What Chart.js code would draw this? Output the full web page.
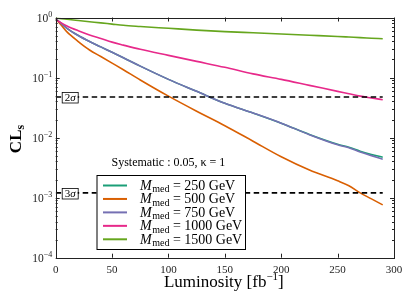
<!DOCTYPE html>
<html><head><meta charset="utf-8">
<script src="https://cdn.jsdelivr.net/npm/chart.js@4.4.0/dist/chart.umd.min.js"></script>
<style>html,body{margin:0;padding:0;background:#fff;}#wrap{width:415px;height:306px;}</style>
</head><body><div id="wrap"><canvas id="c" width="415" height="306"></canvas></div>
<script>
// ---- data ----
const luminosity = [0,5,10,20,30,40,50,60,75,100,125,150,175,200,225,250,260,270,280,290];
const cls250  = [0.95,0.794,0.661,0.501,0.398,0.324,0.263,0.214,0.155,0.0933,0.0589,0.0372,0.0257,0.0174,0.0113,0.00776,0.00692,0.00595,0.00525,0.00470];
const cls500  = [0.95,0.741,0.575,0.398,0.288,0.224,0.174,0.135,0.0912,0.0490,0.0275,0.0158,0.00871,0.00479,0.00288,0.00191,0.00158,0.00120,0.000955,0.000759];
const cls750  = [0.95,0.794,0.661,0.501,0.398,0.324,0.263,0.214,0.155,0.0933,0.0589,0.0372,0.0257,0.0174,0.0112,0.00759,0.00676,0.00575,0.00501,0.00437];
const cls1000 = [0.93,0.813,0.724,0.603,0.513,0.447,0.389,0.347,0.295,0.234,0.186,0.148,0.115,0.0933,0.0741,0.0589,0.0537,0.0490,0.0457,0.0427];
const cls1500 = [0.977,0.955,0.933,0.891,0.851,0.813,0.776,0.741,0.708,0.661,0.617,0.582,0.556,0.531,0.507,0.484,0.473,0.462,0.452,0.442];
const massLabels = ['250','500','750','1000','1500'];
const sigmaValues = [0.0475, 0.0012];
const sigmaNumbers = ['2','3'];
const xTickValues = [0,50,100,150,200,250,300];
const xTickLabels = ['0','50','100','150','200','250','300'];
const yTickValues = [1e-4,1e-3,1e-2,1e-1,1];
const yTickExponents = ['\u22124','\u22123','\u22122','\u22121','0'];
const xTitle = 'Luminosity [fb';
const xTitleExp = '\u22121';
const annotationText = 'Systematic : 0.05, \u03BA = 1';

// ---- style ----
const colors = ['#1b9e77','#d95f02','#7570b3','#e7298a','#66a61e'];
const SERIF = '"Liberation Serif", "DejaVu Serif", serif';
const seriesData = [cls250, cls500, cls750, cls1000, cls1500];
const lineOrder = [5,4,3,2,1];

const datasets = seriesData.map((arr,i)=>({
  data: luminosity.map((l,j)=>({x:l, y:arr[j]})),
  borderColor: colors[i], borderWidth: 1.6, pointRadius: 0,
  cubicInterpolationMode: 'monotone', fill:false, order: lineOrder[i]
}));
sigmaValues.forEach(v=>{
  datasets.push({
    data: [{x:luminosity[0], y:v},{x:luminosity[luminosity.length-1], y:v}],
    borderColor:'#000', borderWidth:1.6, borderDash:[5.5,3.5], pointRadius:0, order:0
  });
});

function supText(ctx, base, exp, xRight, yBase, size, expSize, rise){
  ctx.font = size+'px '+SERIF; const wb = ctx.measureText(base).width;
  ctx.font = expSize+'px '+SERIF; const we = ctx.measureText(exp).width;
  const x0 = xRight - wb - we;
  ctx.font = size+'px '+SERIF; ctx.fillText(base, x0, yBase);
  ctx.font = expSize+'px '+SERIF; ctx.fillText(exp, x0+wb, yBase-rise);
}

const deco = {
  id:'deco',
  afterDraw(chart){
    const {ctx, chartArea:a, scales:{x,y}} = chart;
    ctx.save();
    // frame
    ctx.strokeStyle='#222'; ctx.lineWidth=1;
    ctx.strokeRect(Math.round(a.left)+0.5, Math.round(a.top)+0.5, Math.round(a.right-a.left), Math.round(a.bottom-a.top));
    ctx.beginPath();
    xTickValues.forEach(v=>{
      const px = Math.round(x.getPixelForValue(v))+0.5;
      ctx.moveTo(px,a.bottom); ctx.lineTo(px,a.bottom-4);
      ctx.moveTo(px,a.top); ctx.lineTo(px,a.top+4);
    });
    yTickValues.forEach((v,i)=>{
      const py = Math.round(y.getPixelForValue(v))+0.5;
      ctx.moveTo(a.left,py); ctx.lineTo(a.left+4,py);
      ctx.moveTo(a.right,py); ctx.lineTo(a.right-4,py);
      if(i<yTickValues.length-1){
        for(let k=2;k<=9;k++){
          const pm = Math.round(y.getPixelForValue(v*k))+0.5;
          ctx.moveTo(a.left,pm); ctx.lineTo(a.left+2,pm);
          ctx.moveTo(a.right,pm); ctx.lineTo(a.right-2,pm);
        }
      }
    });
    ctx.stroke();

    // tick labels
    ctx.fillStyle='#222'; ctx.textBaseline='alphabetic';
    ctx.textAlign='center'; ctx.font='11px '+SERIF;
    xTickValues.forEach((v,i)=>{
      ctx.fillText(xTickLabels[i], x.getPixelForValue(v), a.bottom+15.5);
    });
    ctx.textAlign='left';
    yTickValues.forEach((v,i)=>{
      const py = y.getPixelForValue(v);
      supText(ctx, '10', yTickExponents[i], a.left-3.5, py+4, 11.5, 8, 4.5);
    });

    // x title
    ctx.fillStyle='#000'; ctx.textAlign='left';
    ctx.font='17px '+SERIF; const wt1 = ctx.measureText(xTitle).width;
    ctx.font='11px '+SERIF; const wt2 = ctx.measureText(xTitleExp).width;
    ctx.font='17px '+SERIF; const wt3 = ctx.measureText(']').width;
    let tx0 = (a.left+a.right)/2 - (wt1+wt2+wt3)/2 - 1;
    ctx.font='17px '+SERIF; ctx.fillText(xTitle, tx0, 287);
    ctx.font='11px '+SERIF; ctx.fillText(xTitleExp, tx0+wt1, 280);
    ctx.font='17px '+SERIF; ctx.fillText(']', tx0+wt1+wt2, 287);

    // sigma boxes
    sigmaValues.forEach((v,i)=>{
      const py = y.getPixelForValue(v);
      const bx = a.left+6, bw=16, bh=10.5;
      ctx.fillStyle='#fff'; ctx.fillRect(bx, py-bh/2, bw, bh);
      ctx.strokeStyle='#000'; ctx.lineWidth=0.8; ctx.strokeRect(bx+0.5, Math.round(py-bh/2)+0.5, bw, bh);
      ctx.fillStyle='#000'; ctx.textBaseline='middle'; ctx.textAlign='left';
      ctx.font='11px '+SERIF;
      const w1 = ctx.measureText(sigmaNumbers[i]).width;
      ctx.font='italic 11px '+SERIF;
      const w2 = ctx.measureText('\u03C3').width;
      let tx = bx + (bw - w1 - w2)/2 + 0.5;
      ctx.font='11px '+SERIF; ctx.fillText(sigmaNumbers[i], tx, py+1);
      ctx.font='italic 11px '+SERIF; ctx.fillText('\u03C3', tx+w1, py+1);
    });

    // annotation
    ctx.fillStyle='#000'; ctx.textAlign='left'; ctx.textBaseline='alphabetic';
    ctx.font='12px '+SERIF;
    ctx.fillText(annotationText, x.getPixelForValue(49.5), y.getPixelForValue(0.0034));

    // legend
    const L=96.5, T=175, R=245, B=249;
    ctx.fillStyle='#fff'; ctx.fillRect(L,T,R-L,B-T);
    ctx.strokeStyle='#000'; ctx.lineWidth=1; ctx.strokeRect(L+0.5,T+0.5,R-L,B-T);
    massLabels.forEach((m,i)=>{
      const ry = 185.5 + i*13.45;
      ctx.strokeStyle=colors[i]; ctx.lineWidth=2;
      ctx.beginPath(); ctx.moveTo(103,ry); ctx.lineTo(127,ry); ctx.stroke();
      ctx.fillStyle='#000'; ctx.textBaseline='alphabetic';
      let tx=140; const by=ry+4.3;
      ctx.font='italic 14px '+SERIF; ctx.fillText('M',tx,by); tx+=ctx.measureText('M').width+0.5;
      ctx.font='10px '+SERIF; ctx.fillText('med',tx,by+2.5); tx+=ctx.measureText('med').width;
      ctx.font='14px '+SERIF; ctx.fillText(' = '+m+' GeV',tx,by);
    });

    // y title CL_s
    ctx.save();
    ctx.translate(21, 139); ctx.rotate(-Math.PI/2);
    ctx.fillStyle='#000'; ctx.textBaseline='alphabetic'; ctx.textAlign='left';
    ctx.font='bold 17px '+SERIF;
    const wcl = ctx.measureText('CL').width;
    ctx.font='bold 12px '+SERIF;
    const ws = ctx.measureText('s').width;
    const start = -(wcl+ws)/2;
    ctx.font='bold 17px '+SERIF; ctx.fillText('CL', start, 0);
    ctx.font='bold 12px '+SERIF; ctx.fillText('s', start+wcl, 3);
    ctx.restore();
    ctx.restore();
  }
};

new Chart(document.getElementById('c'), {
  type:'line',
  data:{datasets},
  options:{
    responsive:false, animation:false, devicePixelRatio:1,
    layout:{padding:{top:17.5, right:21, left:0, bottom:0}},
    plugins:{legend:{display:false}, tooltip:{enabled:false}},
    scales:{
      x:{type:'linear', min:0, max:300,
        grid:{display:false}, border:{display:false},
        afterBuildTicks:s=>{s.ticks = xTickValues.map(v=>({value:v}));},
        ticks:{display:false},
        afterFit:s=>{s.height=48.3;}
      },
      y:{type:'logarithmic', min:1e-4, max:1,
        grid:{display:false}, border:{display:false},
        afterBuildTicks:s=>{s.ticks = yTickValues.map(v=>({value:v}));},
        ticks:{display:false},
        afterFit:s=>{s.width=55.7;}
      }
    }
  },
  plugins:[deco]
});
</script></body></html>
